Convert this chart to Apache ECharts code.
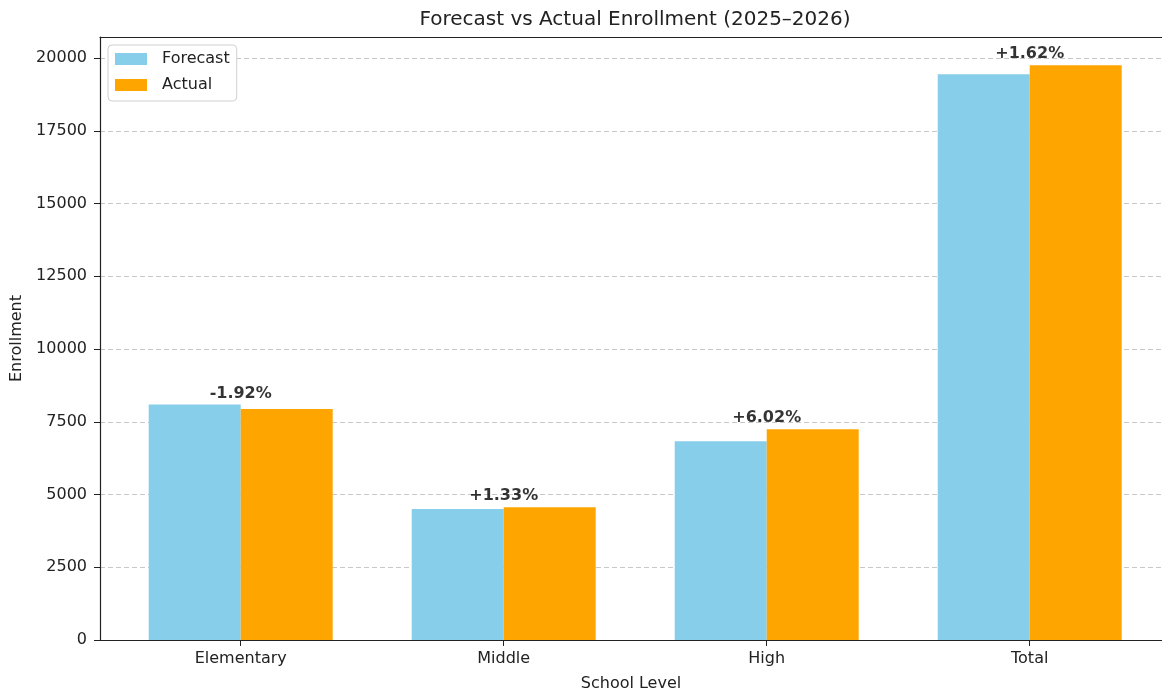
<!DOCTYPE html>
<html>
<head>
<meta charset="utf-8">
<script src="https://cdn.jsdelivr.net/npm/echarts@6/dist/echarts.min.js"></script>
<style>
html,body{margin:0;padding:0;background:#fff;}
#chart{width:1162px;height:692px;}
</style>
</head>
<body>
<div id="chart"></div>
<script>
const categories = ['Elementary', 'Middle', 'High', 'Total'];
const forecast = [8090, 4500, 6830, 19440];
const actual = [7935, 4560, 7241, 19755];
const pctLabels = ['-1.92%', '+1.33%', '+6.02%', '+1.62%'];
const yTicks = [0, 2500, 5000, 7500, 10000, 12500, 15000, 17500, 20000];

const font = 'DejaVu Sans';
const catIdx = categories.map((c, i) => i);
const chart = echarts.init(document.getElementById('chart'));
chart.setOption({
  animation: false,
  backgroundColor: '#fff',
  title: {
    text: 'Forecast vs Actual Enrollment (2025\u20132026)',
    left: 635,
    textAlign: 'center',
    top: 10,
    padding: 0,
    textStyle: { fontFamily: font, fontSize: 20, fontWeight: 'normal', color: '#222' }
  },
  legend: {
    data: ['Forecast', 'Actual'],
    orient: 'vertical',
    icon: 'rect',
    left: 108,
    top: 45,
    padding: [6, 7, 8, 7],
    itemWidth: 32,
    itemHeight: 12,
    itemGap: 10,
    borderColor: '#d0d0d0',
    borderWidth: 1,
    borderRadius: 4,
    backgroundColor: '#fff',
    textStyle: { fontFamily: font, fontSize: 16, color: '#222', padding: [0, 0, 0, 10] }
  },
  grid: {
    left: 100, top: 37, right: 0, height: 603,
    outerBoundsMode: 'none',
    containLabel: false,
    show: false
  },
  xAxis: [{
    type: 'value',
    min: -0.535,
    max: 3.503,
    name: 'School Level',
    nameLocation: 'middle',
    nameGap: 36,
    nameTextStyle: { fontFamily: font, fontSize: 16, color: '#222' },
    axisLine: { show: true, onZero: false, lineStyle: { color: '#222', width: 1.2 } },
    axisTick: { show: true, length: 6, lineStyle: { color: '#222' }, customValues: catIdx },
    axisLabel: {
      customValues: catIdx,
      margin: 11,
      fontFamily: font, fontSize: 16, color: '#222',
      formatter: v => categories[Math.round(v)] || ''
    },
    splitLine: { show: false }
  }, {
    type: 'value',
    position: 'top',
    min: -0.535,
    max: 3.503,
    axisLine: { show: true, onZero: false, lineStyle: { color: '#222', width: 1.2 } },
    axisTick: { show: false },
    axisLabel: { show: false },
    splitLine: { show: false }
  }],
  yAxis: {
    type: 'value',
    min: 0,
    max: 20722,
    interval: 2500,
    name: 'Enrollment',
    nameLocation: 'middle',
    nameGap: 68,
    nameTextStyle: { fontFamily: font, fontSize: 16, color: '#222' },
    axisLine: { show: true, onZero: false, lineStyle: { color: '#222', width: 1.2 } },
    axisTick: { show: true, length: 6, lineStyle: { color: '#222' } },
    axisLabel: {
      margin: 13, fontFamily: font, fontSize: 16, color: '#222',
      showMaxLabel: false,
      formatter: v => (yTicks.indexOf(v) >= 0 ? String(v) : '')
    },
    splitLine: { show: true, lineStyle: { color: '#c8c8c8', type: [5, 3], width: 1 } }
  },
  series: [
    {
      name: 'Forecast', type: 'bar', barWidth: 92, barGap: '0%',
      itemStyle: { color: '#87CEEB' },
      data: forecast.map((v, i) => [i, v])
    },
    {
      name: 'Actual', type: 'bar', barWidth: 92, barGap: '0%',
      itemStyle: { color: '#FFA500' },
      data: actual.map((v, i) => [i, v])
    },
    {
      name: 'pct', type: 'scatter', symbolSize: 0, z: 5,
      itemStyle: { color: 'rgba(0,0,0,0)' },
      data: categories.map((c, i) => [i, Math.max(forecast[i], actual[i])]),
      label: {
        show: true, position: 'top', distance: 3,
        fontFamily: font, fontSize: 16, fontWeight: 'bold', color: '#000',
        formatter: p => pctLabels[p.dataIndex]
      }
    }
  ]
});
</script>
</body>
</html>
